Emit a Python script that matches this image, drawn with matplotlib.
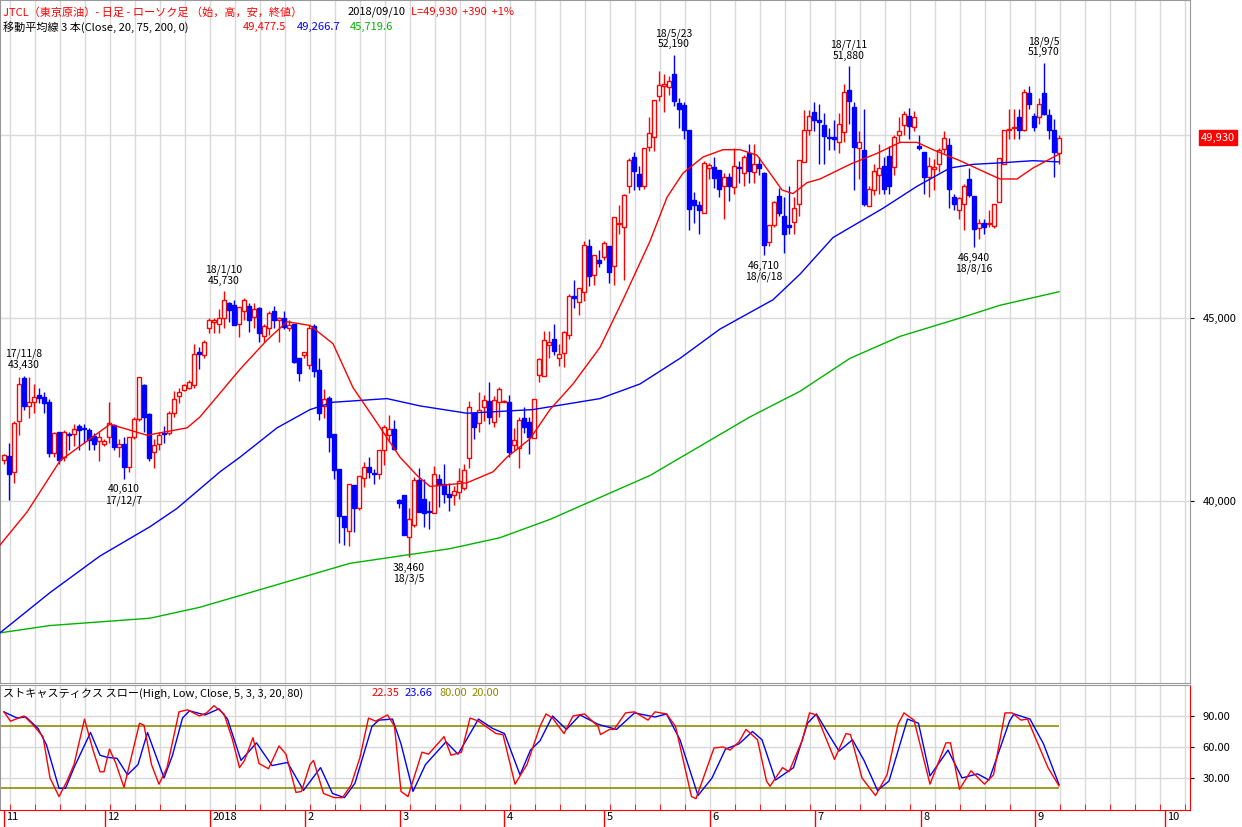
import matplotlib
matplotlib.use("Agg")
import matplotlib.pyplot as plt
import numpy as np

plt.rcParams['font.family'] = ['Noto Sans CJK JP', 'DejaVu Sans']

# ---- candle data (thousand yen), index 0 = 2017/11/1 ----
opens = [41.13,41.23,40.8,42.2,43.35,42.6,42.7,42.9,42.85,42.7,41.32,41.9,41.2,41.82,41.83,42.05,42.0,41.94,41.78,41.65,41.57,
 41.76,42.07,41.48,41.57,40.94,41.76,42.23,43.18,42.38,41.35,41.57,41.86,41.85,42.41,42.87,43.03,43.1,43.17,44.08,44.0,
 44.74,44.9,44.83,44.99,45.4,45.37,44.85,45.2,45.33,45.02,45.28,44.5,44.74,45.19,44.94,44.99,44.74,44.83,43.9,
 44.0,43.71,44.78,43.58,42.6,42.83,41.83,40.89,39.59,39.19,40.43,39.82,40.64,40.92,40.77,40.74,41.39,41.8,41.96,
 40.04,40.16,39.02,39.36,40.57,40.05,39.72,39.68,40.59,40.48,40.19,40.16,40.24,40.35,41.17,42.42,42.12,42.58,42.73,42.15,42.7,42.7,
 42.71,41.53,41.44,42.26,42.17,41.71,43.44,43.41,44.26,44.42,43.92,44.05,44.53,45.61,45.45,45.72,46.97,46.17,46.58,46.68,
 46.97,46.43,47.56,47.49,48.6,49.39,48.93,48.6,49.68,49.95,51.07,51.35,51.32,51.67,50.88,50.82,50.14,48.22,48.09,47.86,
 49.09,49.13,49.04,48.61,48.86,48.59,49.13,48.95,49.52,48.98,49.2,48.97,47.08,47.54,48.34,47.79,47.54,47.63,48.13,49.27,50.15,50.64,
 50.42,50.27,49.95,49.95,49.82,50.09,51.23,50.76,49.64,49.59,48.07,48.5,48.91,49.16,49.43,49.12,50.0,50.27,50.53,50.23,
 49.7,49.53,48.86,49.06,49.21,49.63,49.73,48.31,47.95,48.13,48.79,48.34,47.45,47.6,47.58,47.52,48.16,49.22,50.14,50.2,50.48,50.13,51.14,
 50.52,50.5,51.14,50.55,50.15,49.5]
highs = [41.3,41.6,42.2,43.4,43.43,43.4,43.2,43.1,42.98,42.8,41.9,41.9,41.95,41.9,42.1,42.1,42.1,42.0,41.85,41.9,41.7,
 42.7,42.1,41.7,41.75,41.76,42.3,43.4,43.2,42.4,41.7,41.9,42.05,42.45,43.0,43.1,43.2,43.3,44.3,44.2,44.4,
 45.0,44.99,45.26,45.73,45.45,45.49,45.29,45.54,45.4,45.4,45.31,44.85,45.2,45.33,45.04,45.2,44.96,44.85,43.9,
 44.08,44.8,44.85,43.9,43.06,42.87,41.83,40.89,39.59,40.48,40.43,40.68,41.07,41.21,40.89,41.39,42.07,42.35,42.21,
 40.07,40.16,39.8,40.66,40.9,40.6,40.0,40.95,40.73,41.0,40.5,40.4,40.9,41.0,42.73,42.42,42.99,42.9,43.24,42.88,43.13,42.76,
 42.9,42.0,42.3,42.56,42.3,42.78,43.9,44.65,44.65,44.85,44.3,44.65,45.65,46.04,45.81,47.1,47.16,46.72,46.86,47.1,
 46.97,47.75,48.1,48.4,49.37,49.55,49.15,49.66,50.5,50.97,51.76,51.68,51.6,52.19,51.0,50.9,50.14,48.45,48.2,49.3,
 49.24,49.4,49.04,48.95,48.95,49.65,49.3,49.45,49.75,49.75,49.4,49.0,47.54,48.2,48.55,48.3,48.6,48.3,49.32,50.68,50.68,50.9,
 50.85,50.6,50.2,50.4,50.6,51.4,51.88,50.9,50.1,50.7,48.6,49.2,49.75,49.4,49.7,50.0,50.5,50.65,50.75,50.65,
 50.0,49.53,49.4,49.35,49.65,50.1,49.92,48.4,48.3,48.65,49.1,48.34,47.7,47.7,47.95,48.11,49.36,50.14,50.7,50.7,50.7,51.27,51.35,
 50.6,51.0,51.97,50.7,50.45,50.0]
lows = [41.0,40.03,40.5,41.8,42.5,42.26,42.4,42.67,42.4,41.2,41.2,41.0,41.1,41.4,41.5,41.4,41.6,41.4,41.4,41.1,41.5,
 41.6,41.4,41.2,40.61,40.8,41.7,42.2,41.9,41.1,40.9,41.4,41.6,41.8,42.3,42.67,43.0,43.05,43.1,43.6,43.9,
 44.6,44.6,44.58,44.72,44.9,44.8,44.47,44.94,44.62,44.72,44.35,44.35,44.53,44.72,44.35,44.69,44.65,43.78,43.29,
 43.9,43.6,43.4,42.21,42.26,41.35,40.59,38.86,38.8,38.77,39.16,39.77,40.39,40.62,40.48,40.59,40.98,41.62,41.39,
 39.82,39.07,38.46,39.3,39.7,39.3,39.25,39.68,39.85,39.95,39.73,39.9,40.06,40.3,40.9,41.7,41.9,42.2,42.1,42.03,42.3,42.7,
 41.2,41.4,40.9,41.85,41.3,41.71,43.24,43.41,43.9,44.0,43.7,43.67,44.44,45.28,45.08,45.47,45.88,45.9,46.4,46.6,
 45.95,45.9,47.3,46.05,48.43,48.5,48.5,48.53,49.57,49.57,50.94,50.62,51.1,50.8,50.2,49.9,47.4,47.6,47.3,47.86,
 48.8,48.55,48.3,47.7,48.2,48.4,48.7,48.6,48.7,48.7,48.9,46.71,46.98,47.5,47.8,46.78,47.3,47.3,47.78,49.27,50.0,50.1,
 49.22,49.2,49.6,49.6,49.5,49.8,50.3,48.5,48.8,48.05,48.05,48.35,48.4,48.4,48.4,48.9,49.8,50.0,49.9,50.1,
 49.6,48.4,48.3,48.5,49.0,49.5,48.0,47.95,47.7,47.4,48.3,46.94,47.15,47.3,47.48,47.45,48.16,49.2,49.9,49.9,49.9,50.1,50.7,
 50.1,50.3,50.55,49.9,48.85,49.2]
closes = [41.25,40.75,42.12,43.19,42.6,42.7,42.85,42.82,42.68,41.32,41.86,41.12,41.9,41.8,41.96,41.94,41.98,41.66,41.57,41.76,41.65,
 42.12,41.48,41.57,40.94,41.76,42.23,43.38,42.3,41.19,41.53,41.8,41.83,42.41,42.8,42.98,43.17,43.24,44.03,44.03,44.35,
 44.96,44.96,45.0,45.49,45.22,44.82,45.29,45.49,44.94,45.26,44.6,44.78,45.13,44.96,44.99,44.76,44.8,43.8,43.49,
 44.07,44.74,43.56,42.41,42.78,41.76,40.85,39.59,39.28,40.48,39.81,40.68,40.92,40.8,40.74,41.39,42.03,41.98,41.41,
 39.95,39.07,39.52,40.57,39.71,39.68,39.69,40.73,40.44,40.18,40.12,40.28,40.56,40.85,42.56,42.03,42.5,42.76,42.3,42.77,43.06,42.73,
 41.35,41.68,42.21,42.03,41.74,42.78,43.87,44.4,44.35,44.1,44.03,44.62,45.6,45.55,45.81,46.99,46.15,46.72,46.51,47.06,
 46.27,47.75,47.6,48.36,49.32,49.02,48.6,49.66,50.07,50.97,51.36,51.39,51.47,50.93,50.7,50.14,47.99,48.09,47.95,49.25,
 49.17,48.82,48.54,48.86,48.6,49.15,49.1,49.41,49.02,49.2,49.1,46.99,47.54,48.16,47.88,47.31,47.48,48.0,49.32,50.15,50.52,50.41,
 50.37,49.98,49.93,49.9,50.3,51.17,50.93,49.68,49.8,48.11,48.54,49.02,49.1,48.52,48.6,49.95,50.12,50.57,50.25,50.48,
 49.66,48.86,49.15,49.13,49.59,49.91,48.54,48.11,48.27,48.6,48.36,47.42,47.6,47.48,47.6,48.11,49.36,50.14,50.16,50.22,50.15,51.17,50.85,
 50.21,50.86,50.57,50.15,49.54,49.93]

# moving averages: (candle index, value in thousand yen)
ma20 = [(-0.8,38.8),(4.6,39.7),(11.2,41.1),(21.2,42.1),(28.6,41.8),(32.6,41.9),(36.6,42.0),(39.2,42.3),(47.2,43.6),(52.6,44.4),
 (56.6,44.9),(61.2,44.8),(65.8,44.3),(69.8,43.1),(73.8,42.3),(79.2,41.2),(82.6,40.7),(85.2,40.4),(92.6,40.5),(97.8,40.8),
 (100.6,41.2),(105.2,41.7),(109.2,42.5),(113.8,43.2),(119.2,44.2),(123.8,45.5),(129.2,47.1),(132.6,48.3),(135.8,48.96),
 (139.8,49.4),(143.8,49.6),(147.2,49.6),(150.6,49.45),(153.2,48.96),(155.6,48.5),(157.8,48.4),(160.6,48.7),(163.2,48.8),
 (169.2,49.2),(174.6,49.5),(179.2,49.8),(182.6,49.8),(185.8,49.6),(191.2,49.3),(196.6,48.96),(199.2,48.8),(202.6,48.8),
 (205.8,49.1),(211,49.4775)]
ma75 = [(-0.8,36.4),(9.2,37.5),(19.2,38.5),(29.2,39.3),(34.6,39.8),(43.2,40.8),(47.2,41.2),(54.6,42.0),(61.2,42.5),(65.8,42.7),
 (76.6,42.8),(83.2,42.6),(92.6,42.4),(105.8,42.5),(119.2,42.8),(127.2,43.2),(135.2,43.9),(143.2,44.7),(153.8,45.5),(159.2,46.2),
 (165.8,47.2),(175.8,48.0),(182.6,48.6),(189.2,49.1),(193.8,49.2),(199.2,49.24),(205.8,49.3),(211,49.2667)]
ma200 = [(-0.8,36.4),(9.2,36.6),(19.2,36.7),(29.2,36.8),(39.2,37.1),(49.2,37.5),(59.2,37.9),(69.2,38.3),(79.2,38.5),(89.2,38.7),
 (99.2,39.0),(109.2,39.5),(119.2,40.1),(129.2,40.7),(139.2,41.5),(149.2,42.3),(159.2,43.0),(169.2,43.9),(179.2,44.5),
 (191.2,45.0),(199.2,45.35),(211,45.7196)]

# stochastics slow (%K red, %D blue), read at turning points: (candle index, value)
stoch_k = [(0,94),(1.3,85),(4.0,90),(5.7,82),(7.8,70),(9.2,30),(11.0,12),(12.6,27),(14.0,43),(16.1,87),(17.8,57),(19.2,36),
 (20.0,36),(21.1,58),(22.3,45),(24.0,21),(27.1,83),(28.0,81),(29.5,43),(31.0,24),(32.6,40),(35.0,94),(36.7,96),(39.1,90),
 (40.5,93),(42.0,100),(44.0,92),(45.7,67),(47.1,40),(48.1,47),(49.8,69),(51.0,44),(52.9,39),(55.0,61),(56.4,53),(58.4,16),
 (59.5,17),(61.2,43),(61.9,47),(63.9,15),(66.0,11),(67.7,11),(69.4,23),(71.2,50),(72.9,88),(74.3,85),(76.7,91),(78.1,80),
 (79.4,17),(80.8,12),(83.6,55),(84.9,53),(88.0,70),(89.4,52),(91.5,55),(93.2,88),(94.9,85),(98.4,73),(99.8,72),(102.2,24),
 (104.6,43),(107.2,80),(108.4,92),(109.7,88),(112.0,73),(113.8,90),(116.1,92),(118.8,80),(119.3,72),(121.1,77),(122.0,77),
 (124.3,93),(126.1,94),(128.8,86),(130.2,94),(132.5,92),(134.3,80),(137.5,12),(138.4,10),(142.0,59),(143.8,60),(145.2,57),
 (147.0,65),(148.4,77),(150.7,67),(152.5,27),(153.2,22),(155.7,40),(157.0,36),(159.7,67),(161.1,93),(162.5,91),(166.1,48),
 (168.4,73),(169.3,72),(171.6,30),(174.3,13),(176.6,33),(178.8,82),(180.0,93),(182.0,86),(185.2,24),(188.4,64),(189.3,64),
 (191.1,19),(193.4,37),(196.1,24),(197.9,33),(200.2,93),(201.6,93),(203.4,86),(204.7,87),(208.8,40),(211,22.35)]
stoch_d = [(0,94),(2.6,88),(4.4,89),(6.8,78),(8.5,62),(11.0,20),(12.3,20),(14.0,40),(17.3,74),(19.2,52),(20.6,50),(22.6,49),
 (24.7,33),(26.8,43),(28.7,74),(29.9,58),(32.0,30),(33.7,52),(35.7,88),(37.1,95),(40.2,91),(43.0,97),(44.7,87),(47.4,47),
 (50.5,64),(53.6,42),(56.7,45),(59.9,18),(63.3,40),(65.7,15),(68.1,11),(70.2,25),(73.6,80),(75.0,86),(77.7,87),(79.4,63),
 (81.8,17),(84.3,43),(88.4,65),(90.8,53),(94.9,87),(97.7,78),(100.1,73),(103.2,33),(105.3,57),(107.2,66),(109.7,90),
 (112.5,77),(115.2,91),(118.8,82),(122.5,77),(126.1,93),(130.2,89),(132.5,92),(135.2,67),(138.8,13),(141.6,30),(144.3,58),
 (147.0,63),(149.7,75),(151.6,67),(154.3,28),(157.9,40),(160.7,83),(162.5,92),(165.2,70),(167.0,56),(169.7,67),(172.0,47),
 (174.7,18),(177.0,27),(180.7,87),(182.9,83),(185.2,32),(188.8,57),(191.6,30),(194.7,34),(197.0,28),(201.1,85),(202.0,92),
 (205.2,87),(207.9,63),(211,23.66)]

month_labels = ['11', '12', '2018', '2', '3', '4', '5', '6', '7', '8', '9', '10']
month_starts = [0, 20.2, 41.2, 60.2, 79.2, 100, 120, 141.2, 162.2, 183.4, 206.2, 232.2]

# price annotations: (candle index, kind, date text, price text)
notes = [(4, 'high', '17/11/8', '43,430'), (24, 'low', '17/12/7', '40,610'), (44, 'high', '18/1/10', '45,730'),
         (81, 'low', '18/3/5', '38,460'), (134, 'high', '18/5/23', '52,190'), (152, 'low', '18/6/18', '46,710'),
         (169, 'high', '18/7/11', '51,880'), (194, 'low', '18/8/16', '46,940'), (208, 'high', '18/9/5', '51,970')]

O = np.array(opens) * 1000; H = np.array(highs) * 1000; L = np.array(lows) * 1000; C = np.array(closes) * 1000
idx = np.arange(len(C))

RED = '#ff0000'; BLUE = '#0000ff'; GREEN = '#00b400'; OLIVE = '#8c8c00'; GRID = '#d9d9d9'
W, Hh = 1242, 827
fig = plt.figure(figsize=(W / 100, H.size and Hh / 100), dpi=100)
ax1 = fig.add_axes([0, (Hh - 683) / Hh, 1190 / W, 683 / Hh])
ax2 = fig.add_axes([0, (Hh - 810) / Hh, 1190 / W, 125 / Hh])
XL = (-0.8, 237.2)
weeks = np.arange(1.2, 237, 5)

for ax in (ax1, ax2):
    ax.set_xlim(*XL)
    for w in weeks:
        ax.axvline(w, color=GRID, lw=1, zorder=0)
    for s in ax.spines.values():
        s.set_color('#999999')

# main panel
ax1.set_ylim(35030, 53690)
for g in (40000, 45000, 50000):
    ax1.axhline(g, color=GRID, lw=1, zorder=0)
up = C >= O
ax1.vlines(idx, L, H, colors=np.where(up, RED, BLUE), lw=1, zorder=2)
ax1.bar(idx[up], np.maximum(C - O, 15)[up], bottom=O[up], width=0.62, color='white', edgecolor=RED, lw=1, zorder=3)
ax1.bar(idx[~up], (O - C)[~up], bottom=C[~up], width=0.62, color=BLUE, edgecolor=BLUE, lw=1, zorder=3)
for data, col in ((ma200, GREEN), (ma75, BLUE), (ma20, RED)):
    xs, ys = zip(*data)
    ax1.plot(xs, np.array(ys) * 1000, color=col, lw=1, zorder=4)
for i, kind, d, p in notes:
    if kind == 'high':
        ax1.annotate(d + '\n' + p, (i, H[i]), xytext=(0, 4), textcoords='offset points', ha='center', va='bottom',
                     fontsize=7.5, linespacing=1.1)
    else:
        ax1.annotate(p + '\n' + d, (i, L[i]), xytext=(0, -4), textcoords='offset points', ha='center', va='top',
                     fontsize=7.5, linespacing=1.1)
ax1.yaxis.tick_right()
ax1.set_yticks([40000, 45000])
ax1.set_yticklabels(['40,000', '45,000'], fontsize=8)
ax1.tick_params(axis='y', length=3, pad=6, colors='black')
ax1.set_xticks([])
ax1.annotate('49,930', (1, C[-1]), xycoords=('axes fraction', 'data'), xytext=(8, 0), textcoords='offset points',
             va='center', ha='left', color='white', fontsize=8,
             bbox=dict(boxstyle='square,pad=0.2', fc=RED, ec=RED))

# header texts
def ftext(x, y, s, c):
    fig.text(x / W, 1 - y / Hh, s, color=c, fontsize=8, va='center', ha='left')
ftext(3, 12, 'JTCL（東京原油）- 日足 - ローソク足 （始，高，安，終値）', RED)
ftext(348, 12, '2018/09/10', 'black')
ftext(411, 12, 'L=49,930  +390  +1%', RED)
ftext(3, 27, '移動平均線 3 本(Close, 20, 75, 200, 0)', 'black')
ftext(243, 27, '49,477.5', RED)
ftext(297, 27, '49,266.7', BLUE)
ftext(350, 27, '45,719.6', GREEN)
ftext(3, 693, 'ストキャスティクス スロー(High, Low, Close, 5, 3, 3, 20, 80)', 'black')
ftext(372, 693, '22.35', RED)
ftext(405, 693, '23.66', BLUE)
ftext(439, 693, '80.00', OLIVE)
ftext(472, 693, '20.00', OLIVE)

# stochastic panel
ax2.set_ylim(-1, 120)
for g in (30, 60, 90):
    ax2.axhline(g, color=GRID, lw=1, zorder=0)
ax2.hlines([20, 80], XL[0], idx[-1], colors=OLIVE, lw=1.2, zorder=2)
for data, col in ((stoch_d, BLUE), (stoch_k, RED)):
    xs, ys = zip(*data)
    ax2.plot(xs, ys, color=col, lw=1, zorder=3)
ax2.yaxis.tick_right()
ax2.set_yticks([30, 60, 90])
ax2.set_yticklabels(['30.00', '60.00', '90.00'], fontsize=8)
ax2.tick_params(axis='y', length=3, pad=6)
ax2.spines['bottom'].set_color(RED)
ax2.spines['right'].set_color(RED)
ax2.set_xticks(month_starts)
ax2.set_xticklabels([])
ax2.tick_params(axis='x', direction='out', length=14, color=RED, width=1)
ax2.set_xticks(weeks, minor=True)
ax2.tick_params(axis='x', which='minor', direction='in', length=4, color=RED)
for m, lab in zip(month_starts, month_labels):
    ax2.text(m + 0.5, -0.02, lab, transform=ax2.get_xaxis_transform(), fontsize=8, ha='left', va='top')

fig.savefig('out.png', dpi=100)
